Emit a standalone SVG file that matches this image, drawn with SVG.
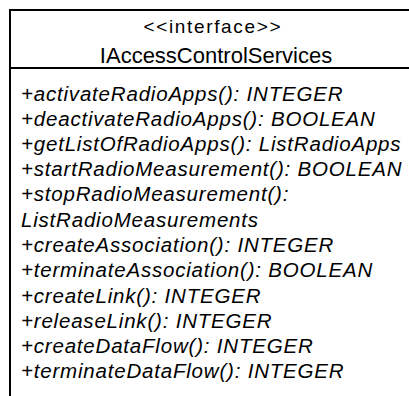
<svg xmlns="http://www.w3.org/2000/svg" width="409" height="396" viewBox="0 0 409 396">
<style>
.box{fill:#fff;stroke:#000;stroke-width:2}
.st{font-family:"Liberation Sans",Arial,sans-serif;font-size:19px;fill:#000}
.nm{font-family:"Liberation Sans",Arial,sans-serif;font-size:22px;fill:#000}
.op{font-family:"Liberation Sans",Arial,sans-serif;font-size:20.5px;font-style:italic;letter-spacing:0.8px;fill:#000}
</style>
<rect width="409" height="396" fill="#fff"/>
<g id="IAccessControlServices">
<rect class="box" x="10" y="10" width="420" height="400"/>
<line x1="10" y1="68" x2="430" y2="68" stroke="#000" stroke-width="2"/>
<text class="st" x="212" y="33" text-anchor="middle" textLength="137" lengthAdjust="spacing">&lt;&lt;interface&gt;&gt;</text>
<text class="nm" x="216" y="63" text-anchor="middle">IAccessControlServices</text>
<text class="op" x="21" y="101">+activateRadioApps(): INTEGER</text>
<text class="op" x="21" y="126">+deactivateRadioApps(): BOOLEAN</text>
<text class="op" x="21" y="151">+getListOfRadioApps(): ListRadioApps</text>
<text class="op" x="21" y="176">+startRadioMeasurement(): BOOLEAN</text>
<text class="op" x="21" y="201">+stopRadioMeasurement():</text>
<text class="op" x="21" y="227">ListRadioMeasurements</text>
<text class="op" x="21" y="252">+createAssociation(): INTEGER</text>
<text class="op" x="21" y="277">+terminateAssociation(): BOOLEAN</text>
<text class="op" x="21" y="303">+createLink(): INTEGER</text>
<text class="op" x="21" y="328">+releaseLink(): INTEGER</text>
<text class="op" x="21" y="353">+createDataFlow(): INTEGER</text>
<text class="op" x="21" y="378">+terminateDataFlow(): INTEGER</text>
</g>
<g id="connectors"/>
</svg>
